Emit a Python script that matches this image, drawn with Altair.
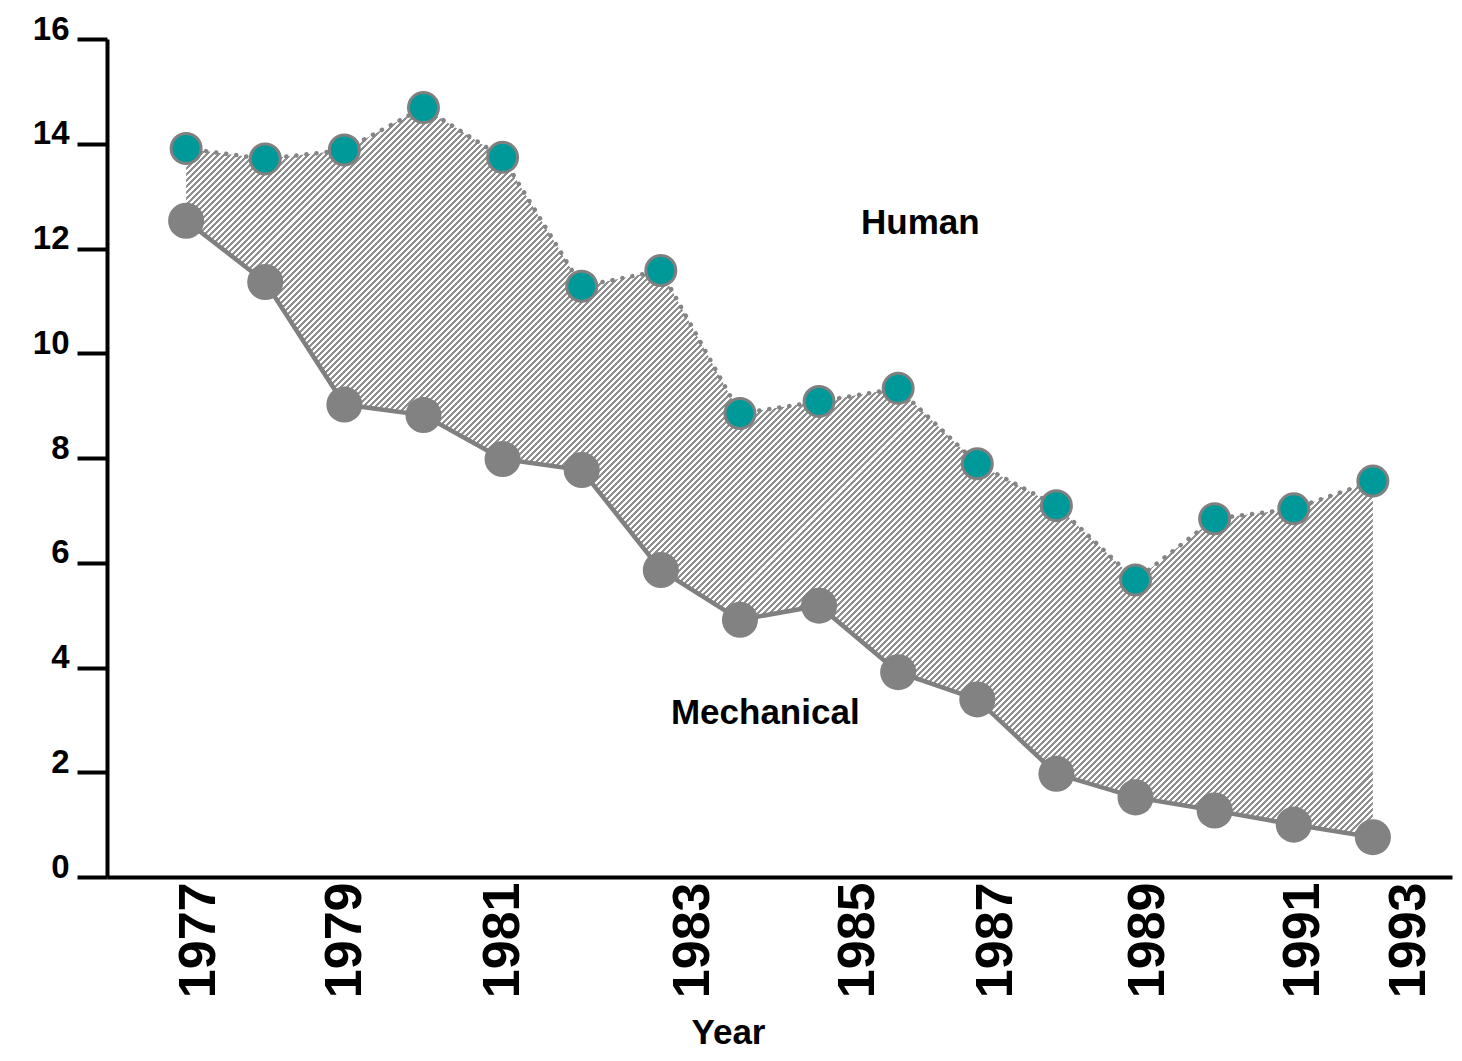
import altair as alt
import pandas as pd

# ---- data ----
years = list(range(1977, 1993))
human = [13.91, 13.71, 13.88, 14.69, 13.74, 11.28, 11.58, 8.85, 9.08, 9.33,
         7.89, 7.09, 5.67, 6.84, 7.03, 7.56]
mechanical = [12.53, 11.36, 9.02, 8.82, 7.98, 7.77, 5.86, 4.91, 5.18, 3.91,
              3.39, 1.97, 1.52, 1.27, 1.00, 0.76]

x_tick_years = [1977, 1979, 1981, 1983, 1985, 1987, 1989, 1991, 1993]
y_tick_values = [0, 2, 4, 6, 8, 10, 12, 14, 16]

ann_text = ["Human", "Mechanical"]
ann_year = [1986.28, 1984.32]
ann_value = [12.49, 3.13]

df = pd.DataFrame({"Year": years, "Human": human, "Mechanical": mechanical})
ann = pd.DataFrame({"label": ann_text, "Year": ann_year, "value": ann_value})

# ---- layout ----
W, H = 1345, 838
X_DOMAIN = [1976, 1993]
Y_DOMAIN = [0, 16]
FONT = "Liberation Sans"

# ---- hatch pattern built as a hard-stop linear gradient (45 degree stripes) ----
px_year = W / (X_DOMAIN[1] - X_DOMAIN[0])
px_unit = H / (Y_DOMAIN[1] - Y_DOMAIN[0])
bw = (max(years) - min(years)) * px_year
bh = (max(human) - min(mechanical)) * px_unit
r = bh / bw
k = (1 + r) / (1 + r * r)
period = 6.0  # pixels along x (at fixed y)
n = int(round((bw + bh) / period))
dark, light = "#909090", "#ffffff"
stops = []
for i in range(n):
    a = round(i / n, 6)
    m = round((i + 0.5) / n, 6)
    b = round((i + 1) / n, 6)
    stops += [
        alt.GradientStop(offset=a, color=dark),
        alt.GradientStop(offset=m, color=dark),
        alt.GradientStop(offset=m, color=light),
        alt.GradientStop(offset=b, color=light),
    ]
hatch = alt.LinearGradient(gradient="linear", stops=stops, x1=0, y1=0, x2=k, y2=k * r)

x_scale = alt.Scale(domain=X_DOMAIN, nice=False, zero=False)
y_scale = alt.Scale(domain=Y_DOMAIN, nice=False)

# per-label nudges so the year labels sit where the reference puts them
label_nudge = {1977: 12, 1979: 0, 1981: 0, 1983: 32, 1985: 38, 1987: 18,
               1989: 12, 1991: 9, 1993: -44}
offset_conditions = [
    {"test": f"datum.value == {yr}", "value": v} for yr, v in label_nudge.items()
]

x_axis = alt.Axis(
    values=x_tick_years,
    format="d",
    labelAngle=270,
    labelFont=FONT,
    labelFontSize=52,
    labelFontWeight="bold",
    labelColor="black",
    labelPadding=5,
    labelFlush=False,
    labelOverlap=False,
    labelOffset={"condition": offset_conditions, "value": 0},
    ticks=False,
    grid=False,
    domainColor="black",
    domainWidth=4,
    title="Year",
    titleFont=FONT,
    titleFontSize=35,
    titleFontWeight="bold",
    titleColor="black",
    titlePadding=18,
    titleX=621,
    titleAlign="center",
)
y_axis = alt.Axis(
    values=y_tick_values,
    labelFont=FONT,
    labelFontSize=33,
    labelFontWeight="bold",
    labelColor="black",
    labelBaseline="alphabetic",
    labelPadding=8,
    labelFlush=False,
    tickSize=30,
    tickWidth=4,
    tickColor="black",
    grid=False,
    domainColor="black",
    domainWidth=4,
    title=None,
)

base = alt.Chart(df)

area = base.mark_area(color=hatch, opacity=1).encode(
    x=alt.X("Year:Q", scale=x_scale, axis=x_axis),
    y=alt.Y("Human:Q", scale=y_scale, axis=y_axis),
    y2="Mechanical:Q",
)

mech_line = base.mark_line(color="#808080", strokeWidth=4.5).encode(
    x="Year:Q", y="Mechanical:Q"
)
human_line = base.mark_line(
    color="#858585", strokeWidth=4.5, strokeDash=[0.1, 10], strokeCap="round"
).encode(x="Year:Q", y="Human:Q")

mech_pts = base.mark_point(
    filled=True, shape="circle", size=1300, color="#828282", opacity=1
).encode(x="Year:Q", y="Mechanical:Q")
human_pts = base.mark_point(
    filled=True, shape="circle", size=900, fill="#009999", stroke="#808080",
    strokeWidth=3, opacity=1, fillOpacity=1, strokeOpacity=1
).encode(x="Year:Q", y="Human:Q")

labels = alt.Chart(ann).mark_text(
    font=FONT, fontSize=35, fontWeight="bold", color="black",
    align="center", baseline="middle"
).encode(x="Year:Q", y="value:Q", text="label:N")

chart = (
    alt.layer(area, mech_line, human_line, mech_pts, human_pts, labels)
    .properties(
        width=W,
        height=H,
        autosize=alt.AutoSizeParams(type="none"),
        padding={"left": 99, "top": 31, "right": 2, "bottom": 176},
        background="white",
    )
    .configure_view(stroke=None)
)

chart.save("out.html", embed_options={"renderer": "svg", "actions": False})
